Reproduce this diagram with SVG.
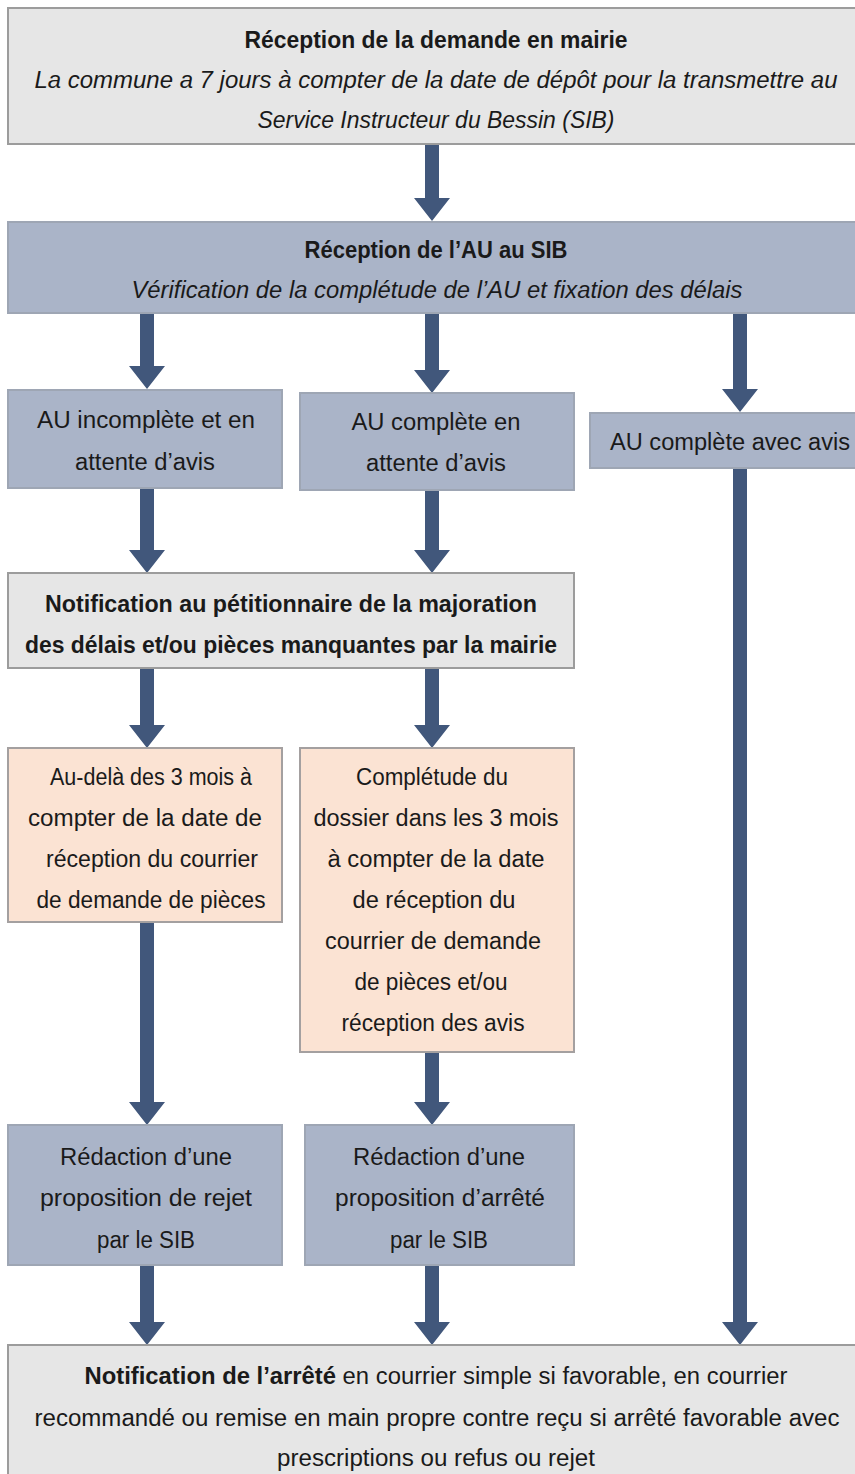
<svg xmlns="http://www.w3.org/2000/svg" width="855" height="1474" viewBox="0 0 855 1474">
<defs>
<style>
.grey{fill:#e6e6e6;stroke:#9c9c9c;stroke-width:2}
.blue{fill:#aab4c8;stroke:#9ea6b4;stroke-width:2}
.orange{fill:#fbe3d3;stroke:#a4a0a0;stroke-width:2}
text{font-family:"Liberation Sans",Arial,sans-serif;font-size:23px;fill:#1a1a1a;text-anchor:middle}
.b{font-weight:bold}
.i{font-style:italic}
.arrow{fill:#41577b}
</style>
</defs>
<rect width="855" height="1474" fill="#ffffff"/>
<g id="connectors">
<polygon class="arrow" points="425,144 439,144 439,198 450,198 432,221 414,198 425,198"/>
<polygon class="arrow" points="140,313 154,313 154,366 165,366 147,389 129,366 140,366"/>
<polygon class="arrow" points="425,313 439,313 439,370 450,370 432,393 414,370 425,370"/>
<polygon class="arrow" points="733,313 747,313 747,389 758,389 740,412 722,389 733,389"/>
<polygon class="arrow" points="140,488 154,488 154,550 165,550 147,573 129,550 140,550"/>
<polygon class="arrow" points="425,490 439,490 439,550 450,550 432,573 414,550 425,550"/>
<polygon class="arrow" points="140,668 154,668 154,725 165,725 147,748 129,725 140,725"/>
<polygon class="arrow" points="425,668 439,668 439,725 450,725 432,748 414,725 425,725"/>
<polygon class="arrow" points="140,922 154,922 154,1102 165,1102 147,1125 129,1102 140,1102"/>
<polygon class="arrow" points="425,1052 439,1052 439,1102 450,1102 432,1125 414,1102 425,1102"/>
<polygon class="arrow" points="140,1265 154,1265 154,1322 165,1322 147,1345 129,1322 140,1322"/>
<polygon class="arrow" points="425,1265 439,1265 439,1322 450,1322 432,1345 414,1322 425,1322"/>
<polygon class="arrow" points="733,468 747,468 747,1322 758,1322 740,1345 722,1322 733,1322"/>
</g>
<g id="n1">
<rect class="grey" x="8" y="8" width="860" height="136"/>
<text class="b" x="436" y="48" textLength="383" lengthAdjust="spacingAndGlyphs">Réception de la demande en mairie</text>
<text class="i" x="436" y="88" textLength="803" lengthAdjust="spacingAndGlyphs">La commune a 7 jours à compter de la date de dépôt pour la transmettre au</text>
<text class="i" x="436" y="128" textLength="357" lengthAdjust="spacingAndGlyphs">Service Instructeur du Bessin (SIB)</text>
</g>
<g id="n2">
<rect class="blue" x="8" y="222" width="860" height="91"/>
<text class="b" x="436" y="258" textLength="263" lengthAdjust="spacingAndGlyphs">Réception de l’AU au SIB</text>
<text class="i" x="437" y="298" textLength="611" lengthAdjust="spacingAndGlyphs">Vérification de la complétude de l’AU et fixation des délais</text>
</g>
<g id="n3">
<rect class="blue" x="8" y="390" width="274" height="98"/>
<text x="146" y="428" textLength="218" lengthAdjust="spacingAndGlyphs">AU incomplète et en</text>
<text x="145" y="470" textLength="140" lengthAdjust="spacingAndGlyphs">attente d’avis</text>
</g>
<g id="n4">
<rect class="blue" x="300" y="393" width="274" height="97"/>
<text x="436" y="430" textLength="169" lengthAdjust="spacingAndGlyphs">AU complète en</text>
<text x="436" y="471" textLength="140" lengthAdjust="spacingAndGlyphs">attente d’avis</text>
</g>
<g id="n5">
<rect class="blue" x="590" y="413" width="270" height="55"/>
<text x="730" y="450" textLength="240" lengthAdjust="spacingAndGlyphs">AU complète avec avis</text>
</g>
<g id="n6">
<rect class="grey" x="8" y="573" width="566" height="95"/>
<text class="b" x="291" y="612" textLength="492" lengthAdjust="spacingAndGlyphs">Notification au pétitionnaire de la majoration</text>
<text class="b" x="291" y="653" textLength="532" lengthAdjust="spacingAndGlyphs">des délais et/ou pièces manquantes par la mairie</text>
</g>
<g id="n7">
<rect class="orange" x="8" y="748" width="274" height="174"/>
<text x="151" y="785" textLength="202" lengthAdjust="spacingAndGlyphs">Au-delà des 3 mois à</text>
<text x="145" y="826" textLength="234" lengthAdjust="spacingAndGlyphs">compter de la date de</text>
<text x="152" y="867" textLength="212" lengthAdjust="spacingAndGlyphs">réception du courrier</text>
<text x="151" y="908" textLength="229" lengthAdjust="spacingAndGlyphs">de demande de pièces</text>
</g>
<g id="n8">
<rect class="orange" x="300" y="748" width="274" height="304"/>
<text x="432" y="785" textLength="152" lengthAdjust="spacingAndGlyphs">Complétude du</text>
<text x="436" y="826" textLength="245" lengthAdjust="spacingAndGlyphs">dossier dans les 3 mois</text>
<text x="436" y="867" textLength="217" lengthAdjust="spacingAndGlyphs">à compter de la date</text>
<text x="434" y="908" textLength="163" lengthAdjust="spacingAndGlyphs">de réception du</text>
<text x="433" y="949" textLength="216" lengthAdjust="spacingAndGlyphs">courrier de demande</text>
<text x="431" y="990" textLength="153" lengthAdjust="spacingAndGlyphs">de pièces et/ou</text>
<text x="433" y="1031" textLength="183" lengthAdjust="spacingAndGlyphs">réception des avis</text>
</g>
<g id="n9">
<rect class="blue" x="8" y="1125" width="274" height="140"/>
<text x="146" y="1165" textLength="172" lengthAdjust="spacingAndGlyphs">Rédaction d’une</text>
<text x="146" y="1206" textLength="212" lengthAdjust="spacingAndGlyphs">proposition de rejet</text>
<text x="146" y="1248" textLength="98" lengthAdjust="spacingAndGlyphs">par le SIB</text>
</g>
<g id="n10">
<rect class="blue" x="305" y="1125" width="269" height="140"/>
<text x="439" y="1165" textLength="172" lengthAdjust="spacingAndGlyphs">Rédaction d’une</text>
<text x="440" y="1206" textLength="210" lengthAdjust="spacingAndGlyphs">proposition d’arrêté</text>
<text x="439" y="1248" textLength="98" lengthAdjust="spacingAndGlyphs">par le SIB</text>
</g>
<g id="n11">
<rect class="grey" x="8" y="1345" width="860" height="140"/>
<text x="436" y="1384" textLength="703" lengthAdjust="spacingAndGlyphs"><tspan class="b">Notification de l’arrêté</tspan> en courrier simple si favorable, en courrier</text>
<text x="437" y="1426" textLength="805" lengthAdjust="spacingAndGlyphs">recommandé ou remise en main propre contre reçu si arrêté favorable avec</text>
<text x="436" y="1466" textLength="318" lengthAdjust="spacingAndGlyphs">prescriptions ou refus ou rejet</text>
</g>
</svg>
